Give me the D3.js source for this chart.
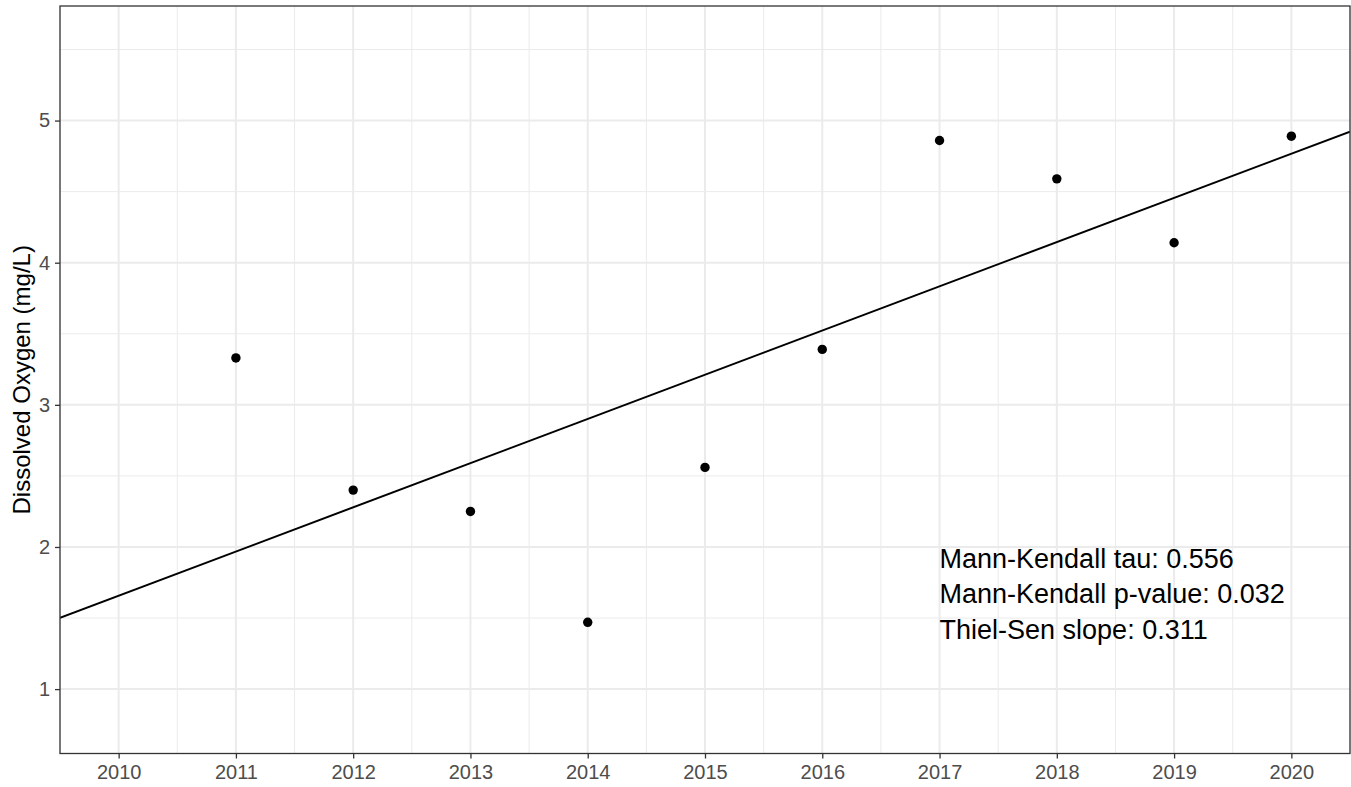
<!DOCTYPE html>
<html><head><meta charset="utf-8">
<script src="https://cdn.jsdelivr.net/npm/d3@7"></script>
<style>body{margin:0;background:#fff}svg{display:block}</style>
</head><body>
<svg id="c" width="1351" height="787"></svg>
<script>
const years = [2011, 2012, 2013, 2014, 2015, 2016, 2017, 2018, 2019, 2020];
const dissolvedOxygen = [3.33, 2.40, 2.25, 1.47, 2.56, 3.39, 4.86, 4.59, 4.14, 4.89];
const xTicks = [2010, 2011, 2012, 2013, 2014, 2015, 2016, 2017, 2018, 2019, 2020];
const yTicks = [1, 2, 3, 4, 5];
const trendSlope = 0.311;
const trendAt2010 = 1.657;
const statLines = ["Mann-Kendall tau: 0.556", "Mann-Kendall p-value: 0.032", "Thiel-Sen slope: 0.311"];
const yTitle = "Dissolved Oxygen (mg/L)";

const svg = d3.select("#c");
const L = 60, R = 1350, T = 6, B = 753.5;
const x = d3.scaleLinear().domain([2009.5, 2020.5]).range([L, R]);
const y = d3.scaleLinear().domain([0.547, 5.806]).range([B, T]);
const font = "'Liberation Sans', Arial, sans-serif";

// grid
const g = svg.append("g");
const xMinor = d3.range(2009.5, 2020.6, 1);
const yMinor = [0.5, 1.5, 2.5, 3.5, 4.5, 5.5].filter(v => v > y.domain()[0] && v < y.domain()[1]);
g.selectAll(".xm").data(xMinor).join("line").attr("x1", d => x(d)).attr("x2", d => x(d)).attr("y1", T).attr("y2", B).attr("stroke", "#ebebeb").attr("stroke-width", 1);
g.selectAll(".ym").data(yMinor).join("line").attr("class","ym").attr("x1", L).attr("x2", R).attr("y1", d => y(d)).attr("y2", d => y(d)).attr("stroke", "#ebebeb").attr("stroke-width", 1);
g.selectAll(".xM").data(xTicks).join("line").attr("class","xM").attr("x1", d => x(d)).attr("x2", d => x(d)).attr("y1", T).attr("y2", B).attr("stroke", "#ebebeb").attr("stroke-width", 2);
g.selectAll(".yM").data(yTicks).join("line").attr("class","yM").attr("x1", L).attr("x2", R).attr("y1", d => y(d)).attr("y2", d => y(d)).attr("stroke", "#ebebeb").attr("stroke-width", 2);

// trend line (clipped)
svg.append("clipPath").attr("id", "clip").append("rect").attr("x", L).attr("y", T).attr("width", R - L).attr("height", B - T);
const xd = x.domain();
svg.append("line").attr("clip-path", "url(#clip)")
  .attr("x1", x(xd[0])).attr("y1", y(trendAt2010 + trendSlope * (xd[0] - 2010)))
  .attr("x2", x(xd[1])).attr("y2", y(trendAt2010 + trendSlope * (xd[1] - 2010)))
  .attr("stroke", "#000").attr("stroke-width", 2);

// points
svg.selectAll(".pt").data(years).join("circle").attr("class","pt")
  .attr("cx", d => x(d)).attr("cy", (d, i) => y(dissolvedOxygen[i])).attr("r", 4.7).attr("fill", "#000");

// annotation
const ann = svg.append("text").attr("font-family", font).attr("font-size", 27).attr("fill", "#000");
statLines.forEach((s, i) => ann.append("tspan").attr("x", x(2017)).attr("y", 568 + i * 35.3).text(s));

// axes
const xAxis = d3.axisBottom(x).tickValues(xTicks).tickFormat(d3.format("d")).tickSize(5).tickPadding(6);
const yAxis = d3.axisLeft(y).tickValues(yTicks).tickFormat(d3.format("d")).tickSize(5).tickPadding(5);
const gx = svg.append("g").attr("transform", `translate(0,${B})`).call(xAxis);
const gy = svg.append("g").attr("transform", `translate(${L},0)`).call(yAxis);
[gx, gy].forEach(a => {
  a.select(".domain").remove();
  a.selectAll(".tick line").attr("stroke", "#333").attr("stroke-width", 1.3);
  a.selectAll(".tick text").attr("font-family", font).attr("font-size", 20).attr("fill", "#4d4d4d");
});
gx.selectAll(".tick text").attr("dy", "0.71em");

// panel border
svg.append("rect").attr("x", L).attr("y", T).attr("width", R - L).attr("height", B - T)
  .attr("fill", "none").attr("stroke", "#333").attr("stroke-width", 1.3);

// y title
svg.append("text").attr("transform", `translate(30,${(T + B) / 2}) rotate(-90)`)
  .attr("text-anchor", "middle").attr("font-family", font).attr("font-size", 24).attr("fill", "#000").text(yTitle);
</script>
</body></html>
